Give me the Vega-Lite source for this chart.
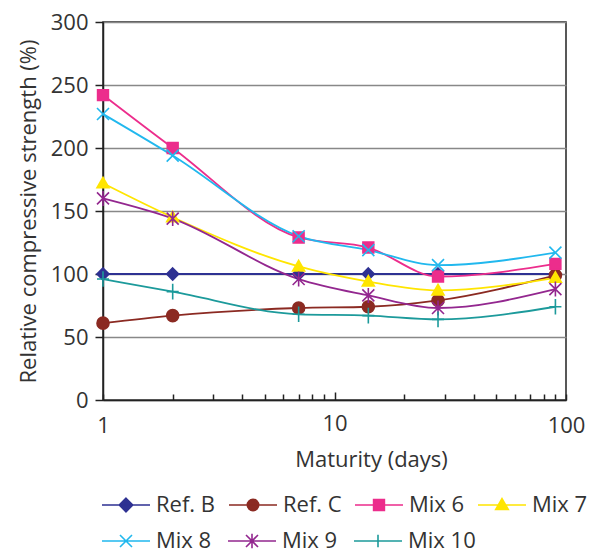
{
  "$schema": "https://vega.github.io/schema/vega-lite/v6.json",
  "width": 463,
  "height": 378,
  "autosize": {"type": "none"},
  "padding": {"left": 103, "top": 22, "right": 26, "bottom": 153},
  "background": "white",
  "config": {
    "font": "Open Sans",
    "view": {"stroke": "#222", "strokeWidth": 1.5},
    "axis": {
      "labelFont": "Open Sans", "titleFont": "Open Sans",
      "labelFontSize": 22, "titleFontSize": 22,
      "labelColor": "#333", "titleColor": "#333", "titleFontWeight": "normal",
      "domainColor": "#222", "tickColor": "#222", "domainWidth": 1.5, "tickWidth": 1.5
    },
    "legend": {
      "orient": "none", "direction": "horizontal", "title": null,
      "symbolSize": 900, "symbolStrokeWidth": 1.6,
      "labelFontSize": 22, "labelFont": "Open Sans", "labelColor": "#333",
      "labelOffset": 14, "columnPadding": 9, "padding": 0
    }
  },
  "data": {
    "values": [
      {"series": "Ref. B", "day": 1, "value": 100}, {"series": "Ref. B", "day": 2, "value": 100}, {"series": "Ref. B", "day": 7, "value": 100}, {"series": "Ref. B", "day": 14, "value": 100}, {"series": "Ref. B", "day": 28, "value": 100}, {"series": "Ref. B", "day": 90, "value": 100},
      {"series": "Ref. C", "day": 1, "value": 61}, {"series": "Ref. C", "day": 2, "value": 67}, {"series": "Ref. C", "day": 7, "value": 73}, {"series": "Ref. C", "day": 14, "value": 74}, {"series": "Ref. C", "day": 28, "value": 79}, {"series": "Ref. C", "day": 90, "value": 99},
      {"series": "Mix 6", "day": 1, "value": 242}, {"series": "Mix 6", "day": 2, "value": 200}, {"series": "Mix 6", "day": 7, "value": 129}, {"series": "Mix 6", "day": 14, "value": 121}, {"series": "Mix 6", "day": 28, "value": 98}, {"series": "Mix 6", "day": 90, "value": 108},
      {"series": "Mix 7", "day": 1, "value": 172}, {"series": "Mix 7", "day": 2, "value": 145}, {"series": "Mix 7", "day": 7, "value": 106}, {"series": "Mix 7", "day": 14, "value": 94}, {"series": "Mix 7", "day": 28, "value": 87}, {"series": "Mix 7", "day": 90, "value": 97},
      {"series": "Mix 8", "day": 1, "value": 227}, {"series": "Mix 8", "day": 2, "value": 194}, {"series": "Mix 8", "day": 7, "value": 130}, {"series": "Mix 8", "day": 14, "value": 119}, {"series": "Mix 8", "day": 28, "value": 107}, {"series": "Mix 8", "day": 90, "value": 117},
      {"series": "Mix 9", "day": 1, "value": 160}, {"series": "Mix 9", "day": 2, "value": 144}, {"series": "Mix 9", "day": 7, "value": 96}, {"series": "Mix 9", "day": 14, "value": 83}, {"series": "Mix 9", "day": 28, "value": 73}, {"series": "Mix 9", "day": 90, "value": 88},
      {"series": "Mix 10", "day": 1, "value": 96}, {"series": "Mix 10", "day": 2, "value": 86}, {"series": "Mix 10", "day": 7, "value": 68}, {"series": "Mix 10", "day": 14, "value": 67}, {"series": "Mix 10", "day": 28, "value": 64}, {"series": "Mix 10", "day": 90, "value": 74}
    ]
  },
  "encoding": {
    "x": {
      "field": "day", "type": "quantitative",
      "scale": {"type": "log", "domain": [1, 100], "nice": false},
      "axis": {
        "title": "Maturity (days)",
        "grid": false,
        "values": [1, 2, 3, 4, 5, 6, 7, 8, 9, 10, 20, 30, 40, 50, 60, 70, 80, 90, 100],
        "labelExpr": "datum.value == 1 || datum.value == 10 || datum.value == 100 ? datum.label : ''",
        "tickSize": {"condition": {"test": "datum.value == 10", "value": -8}, "value": -6},
        "labelPadding": 21,
        "labelFlush": false,
        "labelOverlap": false,
        "titlePadding": 13,
        "titleX": 268
      }
    },
    "y": {
      "field": "value", "type": "quantitative",
      "scale": {"domain": [0, 300], "nice": false},
      "axis": {
        "title": "Relative compressive strength (%)",
        "values": [0, 50, 100, 150, 200, 250, 300],
        "grid": true, "gridColor": "#888", "gridWidth": 1.5,
        "tickSize": 8, "labelPadding": 7, "titlePadding": 10
      }
    }
  },
  "resolve": {"scale": {"fill": "independent", "stroke": "independent", "shape": "independent"}},
  "layer": [
    {
      "mark": {"type": "line", "interpolate": "monotone", "strokeWidth": 1.8},
      "encoding": {
        "stroke": {
          "field": "series", "type": "nominal",
          "scale": {"domain": ["Ref. B", "Ref. C", "Mix 6", "Mix 7", "Mix 8", "Mix 9", "Mix 10"],
                    "range": ["#2E3192", "#8B2A22", "#EC2D8C", "#FFE500", "#21B8EE", "#93278F", "#1C9A9B"]},
          "legend": null
        }
      }
    },
    {
      "mark": {"type": "point", "filled": true, "size": 144, "strokeWidth": 1.6, "opacity": 1},
      "encoding": {
        "fill": {
          "field": "series", "type": "nominal",
          "scale": {"domain": ["Ref. B", "Ref. C", "Mix 6", "Mix 7", "Mix 8", "Mix 9", "Mix 10"],
                    "range": ["#2E3192", "#8B2A22", "#EC2D8C", "#FFE500", "#21B8EE", "#93278F", "#1C9A9B"]},
          "legend": null
        },
        "stroke": {
          "field": "series", "type": "nominal",
          "scale": {"domain": ["Ref. B", "Ref. C", "Mix 6", "Mix 7", "Mix 8", "Mix 9", "Mix 10"],
                    "range": ["#2E3192", "#8B2A22", "#EC2D8C", "#FFE500", "#21B8EE", "#93278F", "#1C9A9B"]},
          "legend": null
        },
        "shape": {
          "field": "series", "type": "nominal",
          "scale": {"domain": ["Ref. B", "Ref. C", "Mix 6", "Mix 7", "Mix 8", "Mix 9", "Mix 10"],
                    "range": ["M0,-1L1,0L0,1L-1,0Z", "circle", "M-0.9,-0.9L0.9,-0.9L0.9,0.9L-0.9,0.9Z", "M0,-1L1,0.75L-1,0.75Z", "M-1,-1L1,1M-1,1L1,-1", "M-1,-1L1,1M-1,1L1,-1M0,-1.25L0,1.25", "M0,-1.3L0,1.3M-1,0L1,0"]},
          "legend": null
        }
      }
    },
    {
      "transform": [{"filter": "datum.day > 1000"}],
      "mark": {"type": "point", "filled": true, "opacity": 1},
      "encoding": {
        "fill": {
          "field": "series", "type": "nominal",
          "scale": {"domain": ["Ref. B", "Ref. C", "Mix 6", "Mix 7"],
                    "range": ["#2E3192", "#8B2A22", "#EC2D8C", "#FFE500"]},
          "legend": {"legendX": 7, "legendY": 467}
        },
        "stroke": {
          "field": "series", "type": "nominal",
          "scale": {"domain": ["Ref. B", "Ref. C", "Mix 6", "Mix 7"],
                    "range": ["#2E3192", "#8B2A22", "#EC2D8C", "#FFE500"]},
          "legend": {"legendX": 7, "legendY": 467}
        },
        "shape": {
          "field": "series", "type": "nominal",
          "scale": {"domain": ["Ref. B", "Ref. C", "Mix 6", "Mix 7"],
                    "range": [
                      "M-1.6,0L1.6,0M0,-0.45L0.45,0L0,0.45L-0.45,0Z",
                      "M-1.6,0L1.6,0M0.38,0C0.38,0.21,0.21,0.38,0,0.38C-0.21,0.38,-0.38,0.21,-0.38,0C-0.38,-0.21,-0.21,-0.38,0,-0.38C0.21,-0.38,0.38,-0.21,0.38,0Z",
                      "M-1.6,0L1.6,0M-0.36,-0.36L0.36,-0.36L0.36,0.36L-0.36,0.36Z",
                      "M-1.6,0L1.6,0M0,-0.42L0.42,0.3L-0.42,0.3Z"
                    ]},
          "legend": {"legendX": 7, "legendY": 467}
        }
      }
    },
    {
      "transform": [{"filter": "datum.day > 1000"}],
      "mark": {"type": "point", "filled": true, "opacity": 1},
      "encoding": {
        "fill": {
          "field": "series", "type": "nominal",
          "scale": {"domain": ["Mix 8", "Mix 9", "Mix 10"],
                    "range": ["#21B8EE", "#93278F", "#1C9A9B"]},
          "legend": {"legendX": 7, "legendY": 503, "columnPadding": 12}
        },
        "stroke": {
          "field": "series", "type": "nominal",
          "scale": {"domain": ["Mix 8", "Mix 9", "Mix 10"],
                    "range": ["#21B8EE", "#93278F", "#1C9A9B"]},
          "legend": {"legendX": 7, "legendY": 503, "columnPadding": 12}
        },
        "shape": {
          "field": "series", "type": "nominal",
          "scale": {"domain": ["Mix 8", "Mix 9", "Mix 10"],
                    "range": [
                      "M-1.6,0L1.6,0M-0.4,-0.4L0.4,0.4M-0.4,0.4L0.4,-0.4",
                      "M-1.6,0L1.6,0M-0.4,-0.4L0.4,0.4M-0.4,0.4L0.4,-0.4M0,-0.48L0,0.48",
                      "M-1.6,0L1.6,0M0,-0.42L0,0.42"
                    ]},
          "legend": {"legendX": 7, "legendY": 503, "columnPadding": 12}
        }
      }
    }
  ]
}
